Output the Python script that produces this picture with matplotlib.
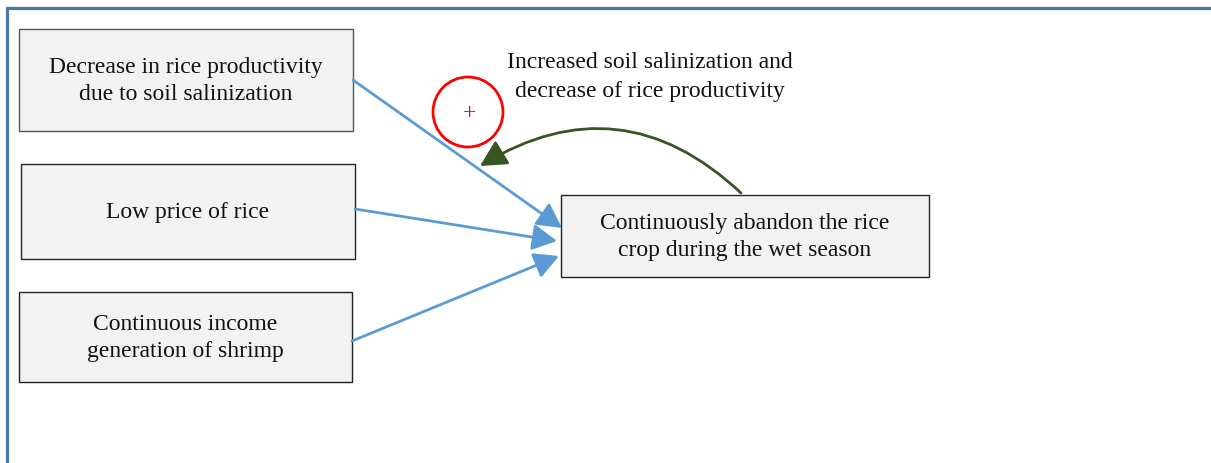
import matplotlib
matplotlib.use("Agg")
import matplotlib.pyplot as plt
from matplotlib.patches import Rectangle, Circle, FancyArrowPatch

plt.rcParams['font.family'] = ['Liberation Serif', 'DejaVu Serif']

W, H = 1211, 463

# boxes: label, (left, top, right, bottom) in pixels
box_labels = ["Decrease in rice productivity\ndue to soil salinization",
              "Low price of rice",
              "Continuous income\ngeneration of shrimp",
              "Continuously abandon the rice\ncrop during the wet season"]
box_extent = [(19, 29, 353, 131),
              (21, 164, 355, 259),
              (19, 292, 352, 382),
              (561, 195, 929, 277)]
box_edge = ["#555555", "#222222", "#222222", "#222222"]

# blue arrows: start -> tip
arrow_start = [(353, 80), (355, 209), (352, 341)]
arrow_tip = [(562, 228), (557, 241), (559, 256)]

loop_label = "Increased soil salinization and\ndecrease of rice productivity"

fig = plt.figure(figsize=(W / 100, H / 100), dpi=100)
ax = fig.add_axes([0, 0, 1, 1])
ax.set_xlim(0, W)
ax.set_ylim(H, 0)
ax.axis("off")

# frame
ax.plot([7, 7, W], [H, 8, 8], color="#4a76a8", lw=2.3, solid_capstyle="butt",
        solid_joinstyle="miter")

for lab, (x0, y0, x1, y1), ec in zip(box_labels, box_extent, box_edge):
    ax.add_patch(Rectangle((x0, y0), x1 - x0, y1 - y0, facecolor="#f2f2f2",
                           edgecolor=ec, lw=1.0))
    ax.text((x0 + x1) / 2, (y0 + y1) / 2 + 1, lab, ha="center", va="center",
            fontsize=17, linespacing=1.38, color="#111111")

for s, t in zip(arrow_start, arrow_tip):
    ax.add_patch(FancyArrowPatch(s, t, arrowstyle="-|>,head_length=0.75,head_width=0.4",
                                 mutation_scale=20, color="#5b9bd5", lw=2.0,
                                 shrinkA=0, shrinkB=0))

# feedback loop arrow
ax.add_patch(FancyArrowPatch((741, 193), (480, 166), connectionstyle="arc3,rad=0.38",
                             arrowstyle="-|>,head_length=0.8,head_width=0.42",
                             mutation_scale=20, color="#375623", lw=2.0,
                             shrinkA=0, shrinkB=0))

ax.add_patch(Circle((468, 112), 35, facecolor="none", edgecolor="#ff0000", lw=2.0))
ax.text(470, 114, "+", ha="center", va="center", fontsize=17, color="#ff0000")

ax.text(650, 77, loop_label, ha="center", va="center", fontsize=17,
        linespacing=1.45, color="#111111")

fig.savefig("out.png", dpi=100)
